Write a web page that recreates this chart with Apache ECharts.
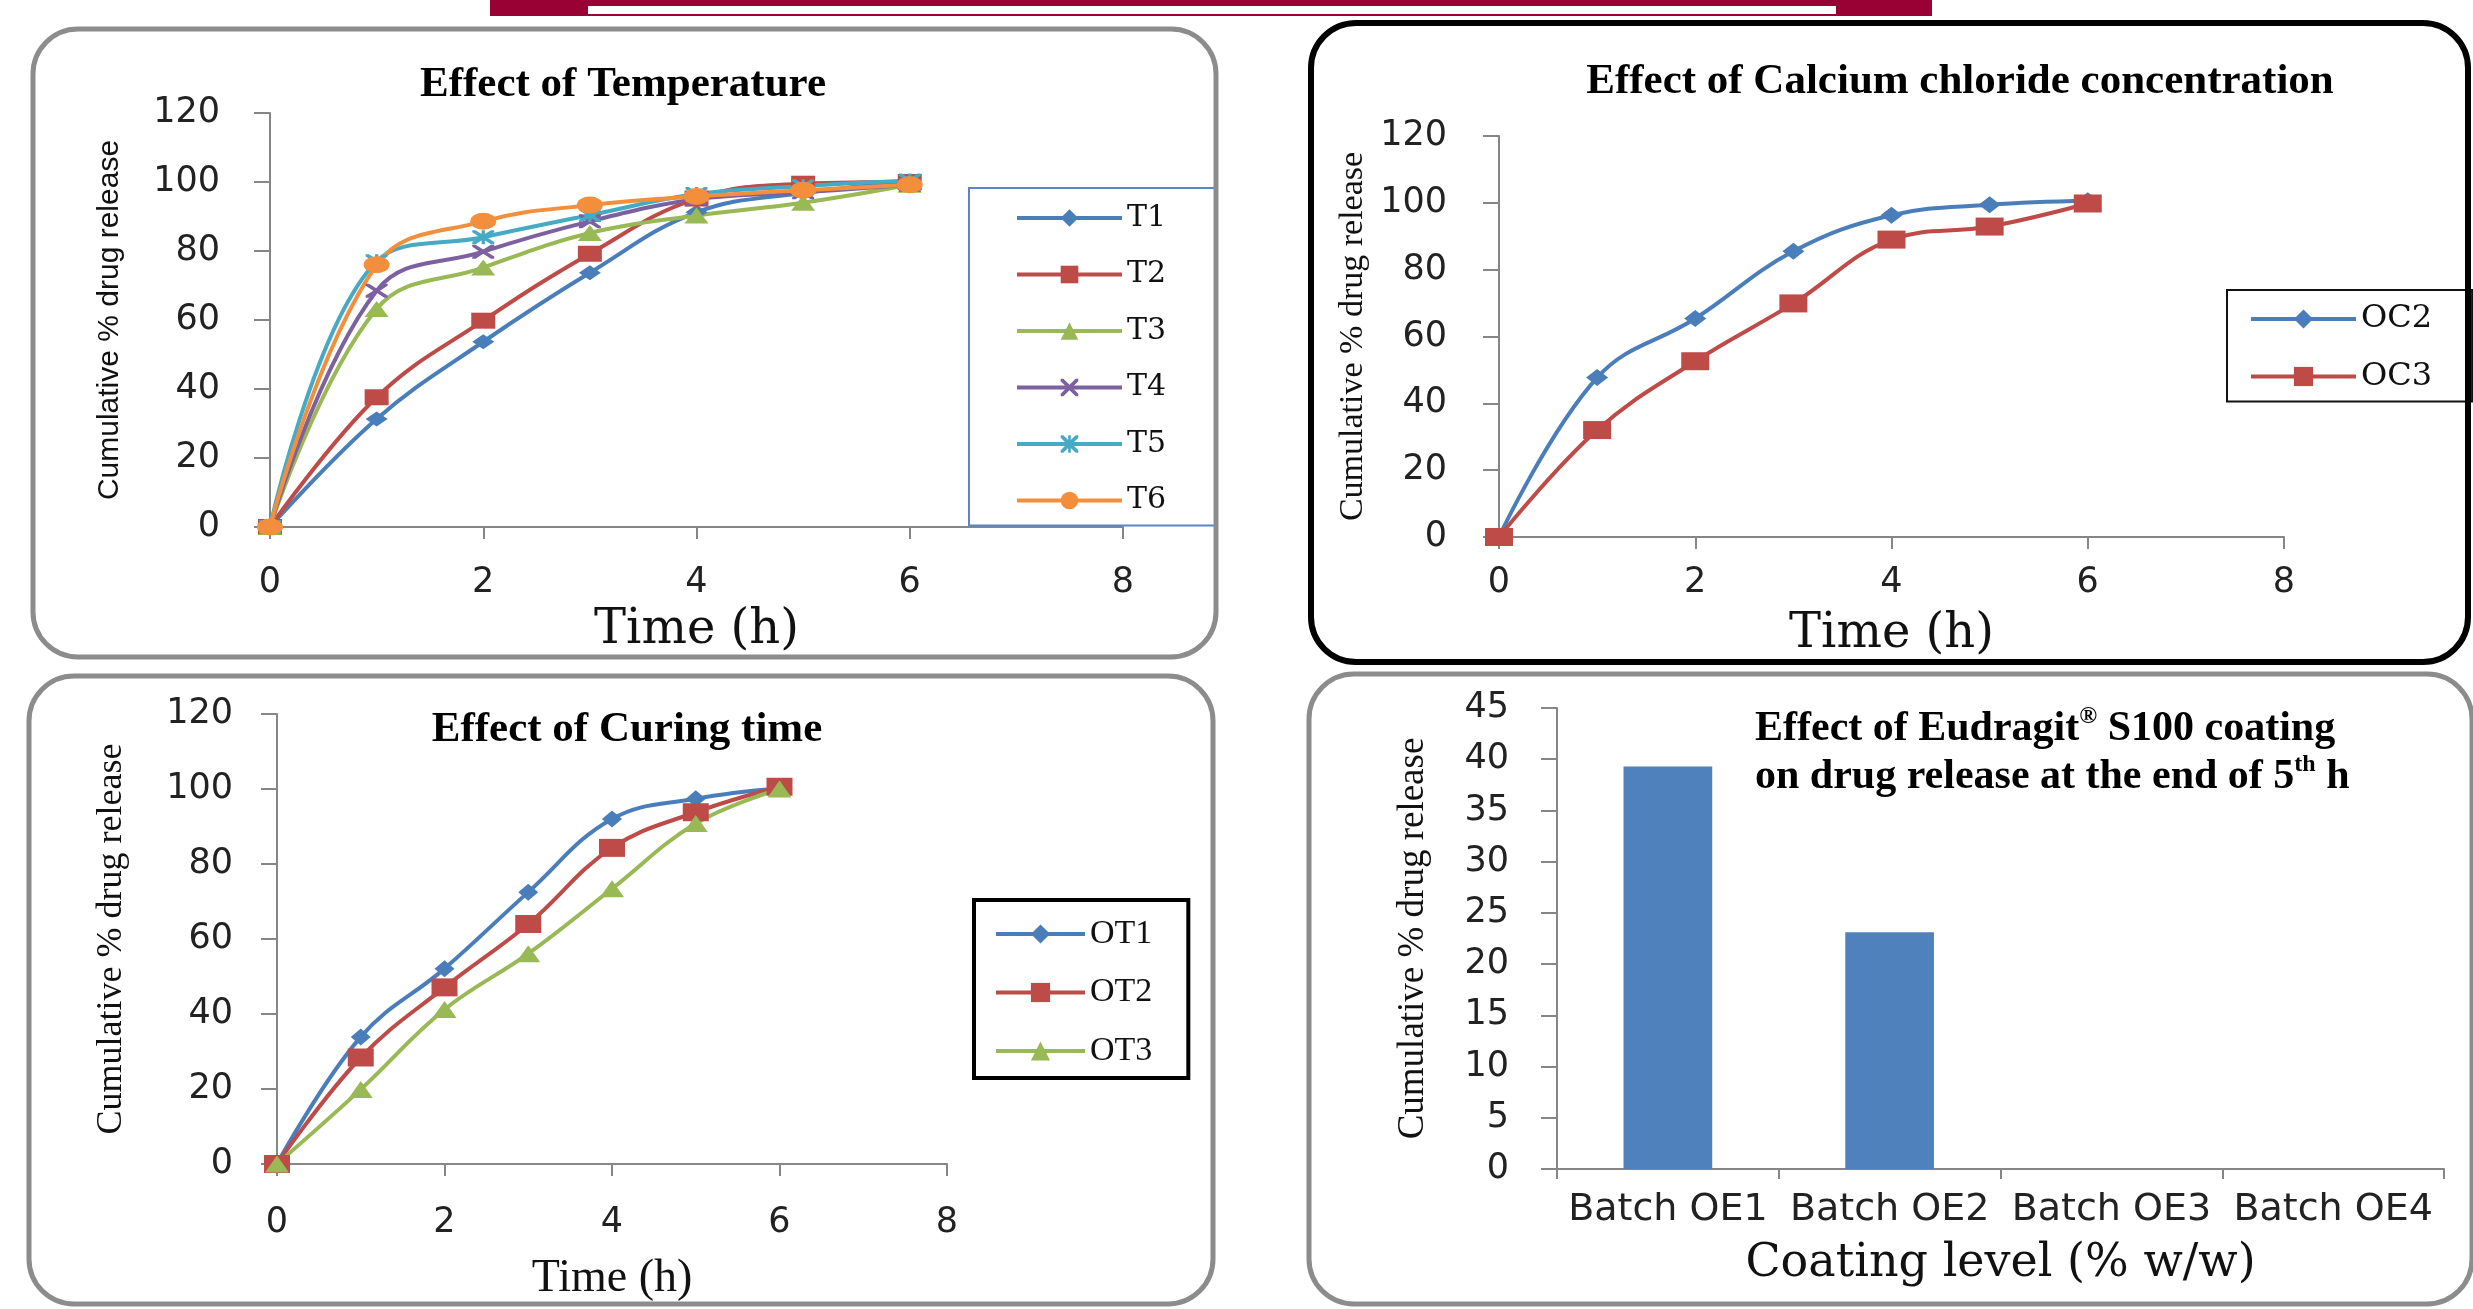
<!DOCTYPE html>
<html>
<head>
<meta charset="utf-8">
<title>Drug release panels</title>
<script src="https://cdn.jsdelivr.net/npm/echarts@6/dist/echarts.min.js"></script>
<style>
html, body { margin: 0; padding: 0; background: #fff; }
#main { width: 2473px; height: 1309px; }
</style>
</head>
<body>
<div id="main"></div>
<script>
// time points (h)
var hours = [0, 1, 2, 3, 4, 5, 6];

// Effect of Temperature
var T1 = [0, 31.3, 53.7, 73.7, 91.2, 96.8, 100];
var T2 = [0, 37.6, 59.8, 79.2, 95.2, 99.5, 100];
var T3 = [0, 63.2, 75.2, 85.2, 90.3, 94.0, 99.2];
var T4 = [0, 68.5, 79.8, 88.6, 95.0, 97.0, 99.2];
var T5 = [0, 77.0, 84.0, 90.4, 96.5, 98.8, 100.4];
var T6 = [0, 76.0, 88.6, 93.3, 95.8, 97.6, 99.2];

// Effect of Calcium chloride concentration
var OC2 = [0, 47.7, 65.4, 85.5, 96.3, 99.4, 100.6];
var OC3 = [0, 32.0, 52.6, 69.9, 89.0, 92.9, 99.8];

// Effect of Curing time
var OT1 = [0, 33.9, 52.1, 72.5, 92.0, 97.4, 100.2];
var OT2 = [0, 28.4, 47.1, 64.0, 84.3, 93.8, 100.6];
var OT3 = [0, 19.9, 41.2, 56.1, 73.4, 90.8, 100.0];

// Effect of Eudragit S100 coating (release at 5 h)
var batchNames = ['Batch OE1', 'Batch OE2', 'Batch OE3', 'Batch OE4'];
var batchRelease = [39.3, 23.1, 0, 0];

var yTitle = 'Cumulative % drug release';

var crossPath = 'path://M0,0L3,0L10,7L17,0L20,0L20,3L13,10L20,17L20,20L17,20L10,13L3,20L0,20L0,17L7,10L0,3Z';
var starPath = crossPath + 'M8.5,0L11.5,0L11.5,20L8.5,20Z';

var blue = '#4A7EBB', red = '#BE4B48', green = '#98B954',
    purple = '#7D60A0', aqua = '#46AAC5', orange = '#F38F3C';

function pairs(vals) {
  return hours.map(function (h, i) { return [h, vals[i]]; });
}

function lineSeries(name, vals, color, symbol, size, idx) {
  return {
    name: name,
    type: 'line',
    xAxisIndex: idx,
    yAxisIndex: idx,
    data: pairs(vals),
    smooth: 0.4,
    symbol: symbol,
    symbolSize: size,
    showAllSymbol: true,
    lineStyle: { color: color, width: 4 },
    itemStyle: { color: color },
    z: 3
  };
}

var axisColor = '#868686';
var sansTick = { fontFamily: 'DejaVu Sans', fontSize: 35, color: '#222' };

function timeAxis(idx, labelMargin, nameGap, nameFont, nameSize) {
  return {
    gridIndex: idx,
    type: 'value',
    min: 0, max: 8, interval: 2,
    name: 'Time (h)',
    nameLocation: 'middle',
    nameGap: nameGap,
    nameTextStyle: { fontFamily: nameFont, fontSize: nameSize, color: '#111' },
    axisLine: { show: true, onZero: false, lineStyle: { color: axisColor, width: 2 } },
    axisTick: { show: true, length: 12, lineStyle: { color: axisColor, width: 2 } },
    axisLabel: Object.assign({ margin: labelMargin }, sansTick),
    splitLine: { show: false }
  };
}

function releaseAxis(idx, max, step, labelMargin, nameGap, nameFont, nameSize) {
  return {
    gridIndex: idx,
    type: 'value',
    min: 0, max: max, interval: step,
    name: yTitle,
    nameLocation: 'middle',
    nameGap: nameGap,
    nameTextStyle: { fontFamily: nameFont, fontSize: nameSize, color: '#111' },
    axisLine: { show: true, lineStyle: { color: axisColor, width: 2 } },
    axisTick: { show: true, length: 16, lineStyle: { color: axisColor, width: 2 } },
    axisLabel: Object.assign({ margin: labelMargin }, sansTick),
    splitLine: { show: false }
  };
}

function panelBox(x, y, w, h, stroke, lw) {
  return {
    type: 'rect',
    z: 100,
    silent: true,
    shape: { x: x, y: y, width: w, height: h, r: 45 },
    style: { fill: 'transparent', stroke: stroke, lineWidth: lw }
  };
}

var titleFont = { fontFamily: 'Liberation Serif', fontWeight: 'bold', fontSize: 43, color: '#000' };

var myChart = echarts.init(document.getElementById('main'));
var option = {
  animation: false,
  backgroundColor: '#fff',
  title: [
    { text: 'Effect of Temperature', left: 618, top: 58, textAlign: 'center', textStyle: titleFont },
    { text: 'Effect of Calcium chloride concentration', left: 1955, top: 55, textAlign: 'center', textStyle: titleFont },
    { text: 'Effect of Curing time', left: 622, top: 703, textAlign: 'center', textStyle: titleFont },
    {
      text: '{a|Effect of Eudragit}{sup|®}{a| S100 coating}\n{a|on drug release at the end of 5}{sup|th}{a| h}',
      left: 1750, top: 700,
      textStyle: {
        rich: {
          a: { fontFamily: 'Liberation Serif', fontWeight: 'bold', fontSize: 42, color: '#000', lineHeight: 48 },
          sup: { fontFamily: 'Liberation Serif', fontWeight: 'bold', fontSize: 24, color: '#000', verticalAlign: 'top', lineHeight: 48 }
        }
      }
    }
  ],
  legend: [
    {
      data: ['T1', 'T2', 'T3', 'T4', 'T5', 'T6'],
      orient: 'vertical', left: 969, top: 188,
      itemWidth: 105, itemHeight: 22, itemGap: 26.5,
      padding: [15, 50, 10, 46],
      borderColor: '#5B85C8', borderWidth: 2,
      lineStyle: { width: 4 },
      textStyle: { fontFamily: 'DejaVu Serif', fontSize: 30, color: '#111' }
    },
    {
      data: ['OC2', 'OC3'],
      orient: 'vertical', left: 2227, top: 290,
      itemWidth: 105, itemHeight: 24, itemGap: 25.5,
      padding: [13, 40, 9, 22],
      borderColor: '#111', borderWidth: 2,
      lineStyle: { width: 4 },
      textStyle: { fontFamily: 'DejaVu Serif', fontSize: 32, color: '#111' }
    },
    {
      data: ['OT1', 'OT2', 'OT3'],
      orient: 'vertical', left: 974, top: 900,
      itemWidth: 89, itemHeight: 24, itemGap: 24.5,
      padding: [17, 36, 10, 20],
      borderColor: '#000', borderWidth: 4,
      lineStyle: { width: 4 },
      textStyle: { fontFamily: 'Liberation Serif', fontSize: 34, color: '#111' }
    }
  ],
  grid: [
    { left: 270, top: 113, width: 853, height: 414 },
    { left: 1499, top: 136, width: 785, height: 401 },
    { left: 277, top: 714, width: 670, height: 450 },
    { left: 1557, top: 708, width: 887, height: 461 }
  ],
  xAxis: [
    timeAxis(0, 38, 80, 'DejaVu Serif', 48),
    timeAxis(1, 28, 74, 'DejaVu Serif', 48),
    timeAxis(2, 41, 92, 'Liberation Serif', 46),
    {
      gridIndex: 3,
      type: 'category',
      data: batchNames,
      name: 'Coating level (% w/w)',
      nameLocation: 'middle',
      nameGap: 72,
      nameTextStyle: { fontFamily: 'DejaVu Serif', fontSize: 46, color: '#111' },
      axisLine: { show: true, lineStyle: { color: axisColor, width: 2 } },
      axisTick: { show: true, length: 10, lineStyle: { color: axisColor, width: 2 } },
      axisLabel: { interval: 0, margin: 22, fontFamily: 'DejaVu Sans', fontSize: 38, color: '#222' },
      splitLine: { show: false }
    }
  ],
  yAxis: [
    releaseAxis(0, 120, 20, 50, 145, 'Liberation Sans', 30),
    releaseAxis(1, 120, 20, 52, 129, 'Liberation Serif', 34),
    releaseAxis(2, 120, 20, 44, 147, 'Liberation Serif', 36),
    releaseAxis(3, 45, 5, 48, 125, 'Liberation Serif', 37)
  ],
  series: [
    lineSeries('T1', T1, blue, 'diamond', [22, 15], 0),
    lineSeries('T2', T2, red, 'rect', [24, 16], 0),
    lineSeries('T3', T3, green, 'triangle', [24, 16], 0),
    lineSeries('T4', T4, purple, crossPath, [22, 14], 0),
    lineSeries('T5', T5, aqua, starPath, [22, 14], 0),
    lineSeries('T6', T6, orange, 'circle', [26, 17], 0),

    lineSeries('OC2', OC2, blue, 'diamond', [22, 17], 1),
    lineSeries('OC3', OC3, red, 'rect', [28, 18], 1),

    lineSeries('OT1', OT1, blue, 'diamond', [20, 17], 2),
    lineSeries('OT2', OT2, red, 'rect', [26, 18], 2),
    lineSeries('OT3', OT3, green, 'triangle', [24, 17], 2),

    {
      name: 'Release at 5 h',
      type: 'bar',
      xAxisIndex: 3,
      yAxisIndex: 3,
      data: batchRelease,
      barWidth: '40%',
      itemStyle: { color: '#4F81BD' }
    }
  ],
  graphic: [
    // top banner
    { type: 'rect', silent: true, shape: { x: 490, y: 0, width: 1442, height: 16 }, style: { fill: '#990033' } },
    { type: 'rect', silent: true, shape: { x: 588, y: 6, width: 1248, height: 8 }, style: { fill: '#fff' } },
    // panel frames
    panelBox(33, 29, 1183, 628, '#8C8C8C', 5),
    panelBox(1311, 23, 1157, 639, '#000', 6),
    panelBox(29, 676, 1184, 628, '#8C8C8C', 5),
    panelBox(1309, 674, 1163, 630, '#8C8C8C', 5)
  ]
};

myChart.setOption(option);
</script>
</body>
</html>
